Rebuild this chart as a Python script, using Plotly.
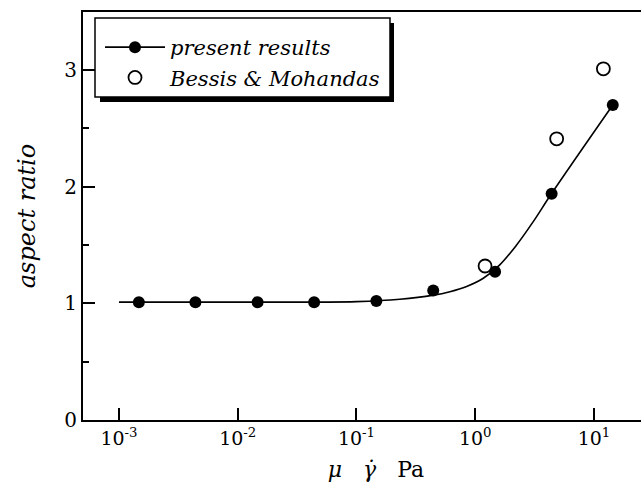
import plotly.graph_objects as go

# ---- data ----
present_x = [1.47e-3, 4.4e-3, 1.47e-2, 4.4e-2, 0.147, 0.443, 1.47, 4.4, 14.4]
present_y = [1.01, 1.01, 1.01, 1.01, 1.02, 1.11, 1.27, 1.94, 2.70]

bessis_x = [1.21, 4.85, 12.0]
bessis_y = [1.32, 2.41, 3.01]

fit_x = [1.0e-3, 1.0e-2, 0.1, 0.232, 0.444, 0.612, 0.847, 1.17, 1.61, 2.23, 3.08, 4.41, 14.4]
fit_y = [1.01, 1.01, 1.015, 1.035, 1.07, 1.10, 1.145, 1.215, 1.33, 1.50, 1.70, 1.943, 2.70]

xtick_vals = [1e-3, 1e-2, 1e-1, 1e0, 1e1]
xtick_text = ["10<sup>-3</sup>", "10<sup>-2</sup>", "10<sup>-1</sup>", "10<sup>0</sup>", "10<sup>1</sup>"]
ytick_vals = [0, 1, 2, 3]

FONT = "DejaVu Serif"

fig = go.Figure()

fig.add_trace(go.Scatter(
    x=fit_x, y=fit_y, mode="lines", line=dict(color="black", width=1.6, shape="spline", smoothing=1.0),
    showlegend=False, hoverinfo="skip"))

fig.add_trace(go.Scatter(
    x=present_x, y=present_y, mode="markers", name="<i>present results</i>",
    marker=dict(color="black", size=12, symbol="circle"), showlegend=False))
fig.add_trace(go.Scatter(
    x=[None], y=[None], mode="lines+markers", name="<i>present results</i>",
    line=dict(color="black", width=1.6), marker=dict(color="black", size=12)))

fig.add_trace(go.Scatter(
    x=bessis_x, y=bessis_y, mode="markers", name="<i>Bessis &amp; Mohandas</i>",
    marker=dict(color="white", size=13, symbol="circle", line=dict(color="black", width=1.8))))

W, H = 641, 494
L, R, T, B = 83, 0, 12, 74
pw, ph = W - L - R, H - T - B

def px_x(px):
    return (px - L) / pw

def px_y(py):
    return (H - B - py) / ph

shapes = [
    dict(type="rect", xref="paper", yref="paper",
         x0=px_x(100), x1=px_x(394), y0=px_y(102), y1=px_y(23),
         fillcolor="black", line=dict(width=0), layer="above"),
    dict(type="rect", xref="paper", yref="paper",
         x0=px_x(95), x1=px_x(390), y0=px_y(97), y1=px_y(18),
         fillcolor="white", line=dict(color="black", width=1.5), layer="above"),
]

fig.update_layout(
    width=W, height=H,
    margin=dict(l=L, r=R, t=T, b=B, pad=0),
    paper_bgcolor="white", plot_bgcolor="white",
    font=dict(family=FONT, color="black", size=19),
    shapes=shapes,
    legend=dict(
        x=px_x(100), y=px_y(27), xanchor="left", yanchor="top",
        bgcolor="rgba(0,0,0,0)", borderwidth=0,
        font=dict(family=FONT, size=21, color="black"),
        tracegroupgap=0, itemwidth=60,
    ),
    xaxis=dict(
        type="log", range=[-3.303, 1.396],
        tickvals=xtick_vals, ticktext=xtick_text,
        ticks="inside", ticklen=12, tickwidth=1.5, tickcolor="black",
        showline=True, linecolor="black", linewidth=2, mirror=True,
        showgrid=False, zeroline=False,
        tickfont=dict(family=FONT, size=19),
        title=dict(text="&nbsp;&nbsp;&nbsp;&nbsp;<i>μ</i>   <i>γ̇</i>   Pa",
                   font=dict(family=FONT, size=22), standoff=14),
    ),
    yaxis=dict(
        range=[0, 3.497], tickvals=ytick_vals,
        ticks="inside", ticklen=12, tickwidth=1.5, tickcolor="black",
        minor=dict(dtick=0.5, tick0=0, ticks="inside", ticklen=6, tickwidth=1.5, tickcolor="black"),
        showline=True, linecolor="black", linewidth=2, mirror=False,
        showgrid=False, zeroline=False,
        tickfont=dict(family=FONT, size=20),
        title=dict(text="<i>aspect ratio</i>", font=dict(family=FONT, size=24), standoff=22),
    ),
)

fig.write_html("out.html")
